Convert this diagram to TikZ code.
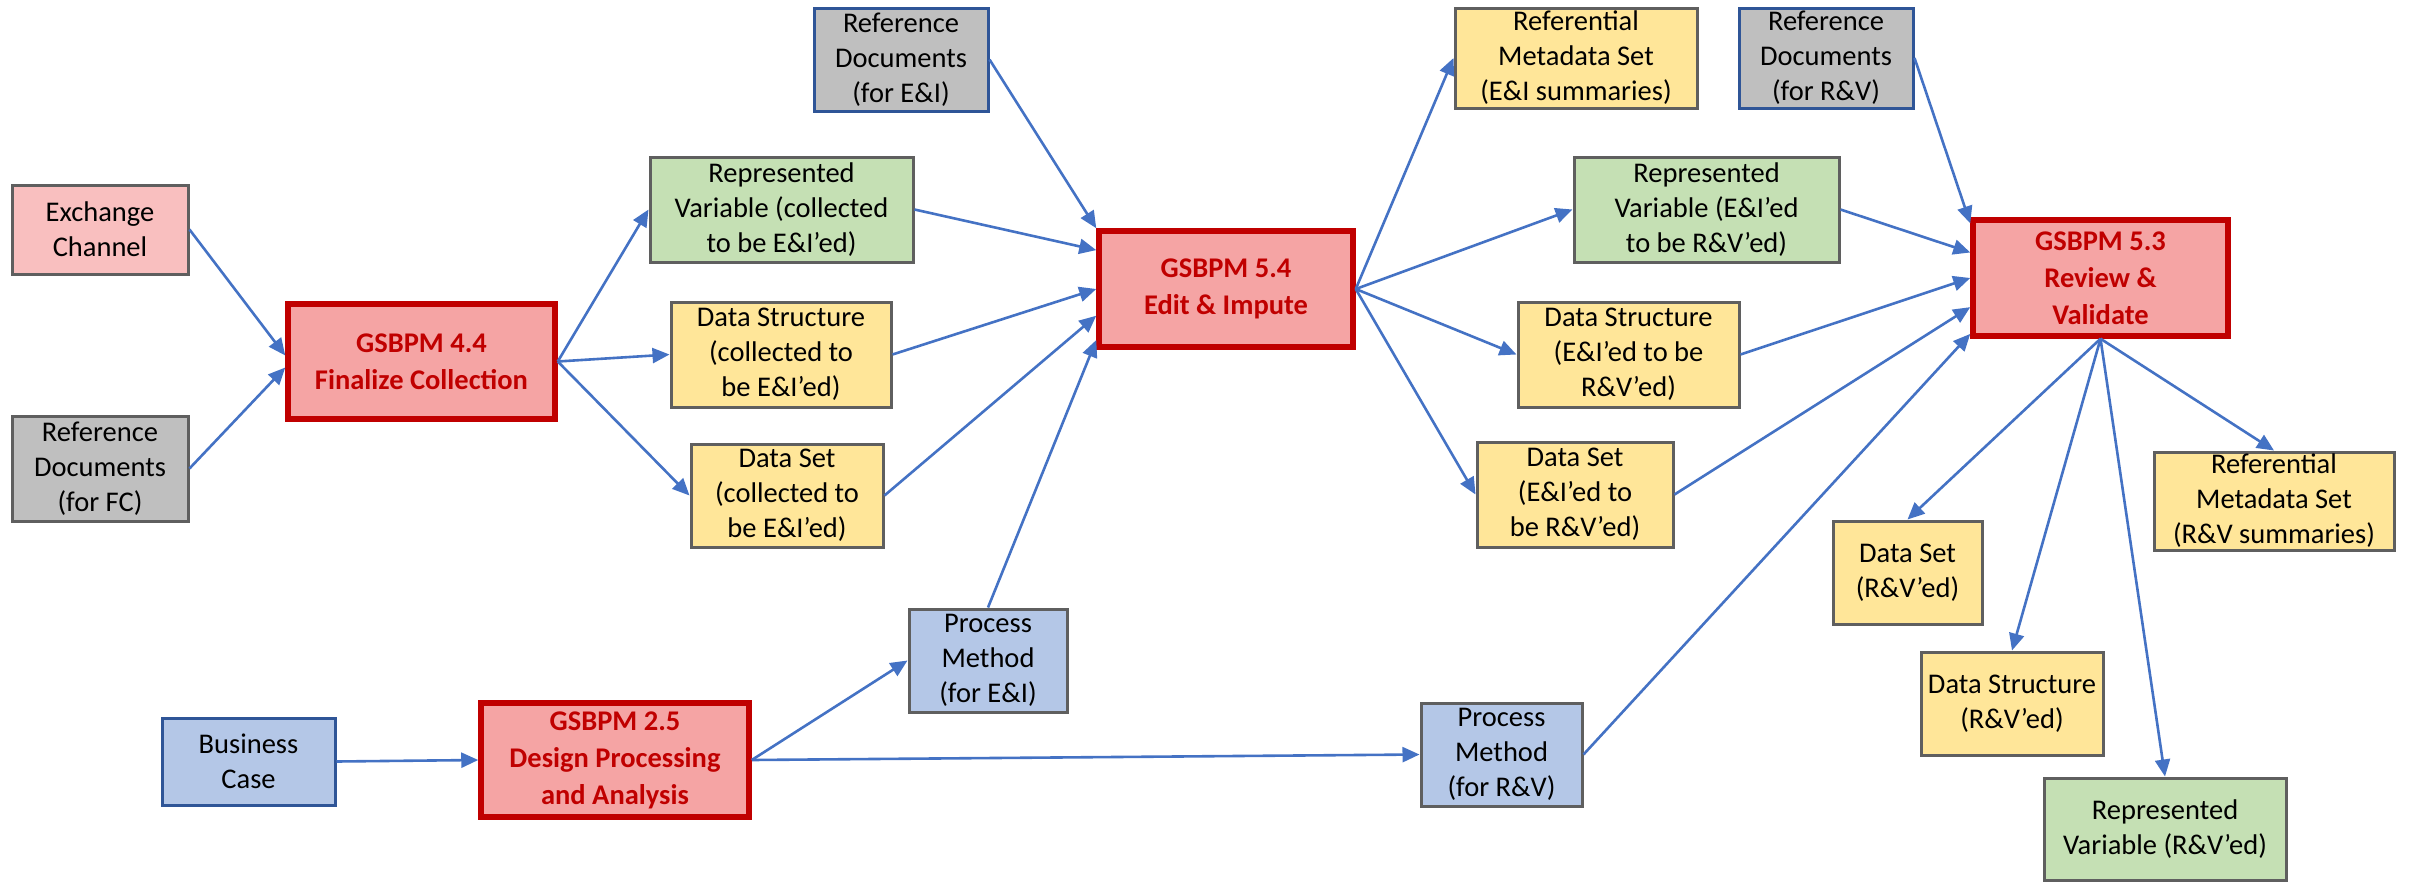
\documentclass[tikz,border=0pt]{standalone}
\usepackage{fontspec}
\setmainfont{Carlito}
\usetikzlibrary{calc,arrows.meta}

\definecolor{arrowblue}{HTML}{4472C4}
\definecolor{edgegray}{HTML}{5F5F5F}
\definecolor{edgeblue}{HTML}{2F5597}
\definecolor{gsred}{HTML}{C00000}
\definecolor{gsfill}{HTML}{F5A4A4}
\definecolor{pinkfill}{HTML}{F9BFBF}
\definecolor{grayfill}{HTML}{BFBFBF}
\definecolor{greenfill}{HTML}{C5E0B4}
\definecolor{yellowfill}{HTML}{FFE699}
\definecolor{bluefill}{HTML}{B4C7E7}

\tikzset{
  box/.style={draw=edgegray, line width=3pt, align=center, inner sep=0pt,
    font=\fontsize{28.5}{35}\selectfont},
  pinkbox/.style={box, fill=pinkfill},
  graybox/.style={box, fill=grayfill},
  refbox/.style={box, fill=grayfill, draw=edgeblue},
  greenbox/.style={box, fill=greenfill},
  yellowbox/.style={box, fill=yellowfill},
  bluebox/.style={box, fill=bluefill},
  casebox/.style={box, fill=bluefill, draw=edgeblue},
  gsbox/.style={box, fill=gsfill, draw=gsred, line width=5.5pt,
    text=gsred, font=\fontsize{28.5}{37}\selectfont\bfseries},
  flow/.style={draw=arrowblue, line width=2.6pt,
    -{Triangle[length=17pt,width=15pt]}},
  sz/.style 2 args={minimum width=#1, minimum height=#2}
}

\begin{document}
\begin{tikzpicture}[x=1pt, y=-1pt]
\useasboundingbox (0,0) rectangle (2417,886);

% sources of the collection phase
\node[pinkbox, sz={176}{89}]  (ec)   at (100,229.5) {Exchange\\Channel};
\node[graybox, sz={176}{105}] (rdfc) at (100,468.5) {Reference\\Documents\\(for FC)};
\node[gsbox, sz={267}{115}]   (g44)  at (421.5,361.5) {GSBPM 4.4\\Finalize Collection};

% collected objects
\node[greenbox, sz={263}{105}]  (rv1)   at (781.5,209.5) {Represented\\Variable (collected\\to be E\&I’ed)};
\node[yellowbox, sz={220}{105}] (ds1)   at (781,354.5)   {Data Structure\\(collected to\\be E\&I’ed)};
\node[yellowbox, sz={192}{103}] (dset1) at (787,495.5)   {Data Set\\(collected to\\be E\&I’ed)};

% edit and impute
\node[refbox, sz={174}{103}] (rde) at (901,59.5) {Reference\\Documents\\(for E\&I)};
\node[gsbox, sz={254}{116}]  (g54) at (1226,289) {GSBPM 5.4\\Edit \& Impute};
\node[bluebox, sz={158}{103}] (pme) at (988,660.5) {Process\\Method\\(for E\&I)};

% design phase
\node[casebox, sz={173}{87}] (bc)  at (248.5,761.5) {Business\\Case};
\node[gsbox, sz={268}{114}]  (g25) at (615,760) {GSBPM 2.5\\Design Processing\\and Analysis};
\node[bluebox, sz={161}{103}] (pmr) at (1501.5,754.5) {Process\\Method\\(for R\&V)};

% edited and imputed objects
\node[yellowbox, sz={242}{100}] (rme)   at (1576,58)    {Referential\\Metadata Set\\(E\&I summaries)};
\node[refbox, sz={174}{100}]    (rdr)   at (1826,58)    {Reference\\Documents\\(for R\&V)};
\node[greenbox, sz={265}{105}]  (rv2)   at (1706.5,209.5) {Represented\\Variable (E\&I’ed\\to be R\&V’ed)};
\node[yellowbox, sz={221}{105}] (ds2)   at (1628.5,354.5) {Data Structure\\(E\&I’ed to be\\R\&V’ed)};
\node[yellowbox, sz={196}{105}] (dset2) at (1575,494.5)   {Data Set\\(E\&I’ed to\\be R\&V’ed)};

% review and validate
\node[gsbox, sz={255}{116}] (g53) at (2100.5,278) {GSBPM 5.3\\Review \&\\Validate};
\node[yellowbox, sz={240}{98}]  (rmr)   at (2274,501)   {Referential\\Metadata Set\\(R\&V summaries)};
\node[yellowbox, sz={149}{103}] (dsetr) at (1907.5,572.5) {Data Set\\(R\&V’ed)};
\node[yellowbox, sz={182}{103}] (dsr)   at (2012,703.5)   {Data Structure\\(R\&V’ed)};
\node[greenbox, sz={242}{102}]  (rvr)   at (2165,829)     {Represented\\Variable (R\&V’ed)};

% inputs to GSBPM 4.4
\draw[flow] (ec.east)   -- ($(g44.north west)!0.45!(g44.south west)$);
\draw[flow] (rdfc.east) -- ($(g44.north west)!0.55!(g44.south west)$);

% outputs of GSBPM 4.4
\draw[flow] (g44.east) -- (rv1.west);
\draw[flow] (g44.east) -- (ds1.west);
\draw[flow] (g44.east) -- (dset1.west);

% inputs to GSBPM 5.4
\draw[flow] (rde.east)    -- (g54.north west);
\draw[flow] (rv1.east)    -- ($(g54.north west)!0.18!(g54.south west)$);
\draw[flow] (ds1.east)    -- ($(g54.north west)!0.50!(g54.south west)$);
\draw[flow] (dset1.east)  -- ($(g54.north west)!0.72!(g54.south west)$);
\draw[flow] (pme.north)   -- ($(g54.north west)!0.92!(g54.south west)$);

% outputs of GSBPM 5.4
\draw[flow] (g54.east) -- (rme.west);
\draw[flow] (g54.east) -- (rv2.west);
\draw[flow] (g54.east) -- (ds2.west);
\draw[flow] (g54.east) -- (dset2.west);

% design phase
\draw[flow] (bc.east)  -- (g25.west);
\draw[flow] (g25.east) -- (pme.west);
\draw[flow] (g25.east) -- (pmr.west);

% inputs to GSBPM 5.3
\draw[flow] (rdr.east)   -- ($(g53.north west)!0.05!(g53.south west)$);
\draw[flow] (rv2.east)   -- ($(g53.north west)!0.29!(g53.south west)$);
\draw[flow] (ds2.east)   -- ($(g53.north west)!0.50!(g53.south west)$);
\draw[flow] (dset2.east) -- ($(g53.north west)!0.74!(g53.south west)$);
\draw[flow] (pmr.east)   -- ($(g53.north west)!0.96!(g53.south west)$);

% outputs of GSBPM 5.3
\draw[flow] (g53.south) -- (rmr.north);
\draw[flow] (g53.south) -- (dsetr.north);
\draw[flow] (g53.south) -- (dsr.north);
\draw[flow] (g53.south) -- (rvr.north);
\end{tikzpicture}
\end{document}
